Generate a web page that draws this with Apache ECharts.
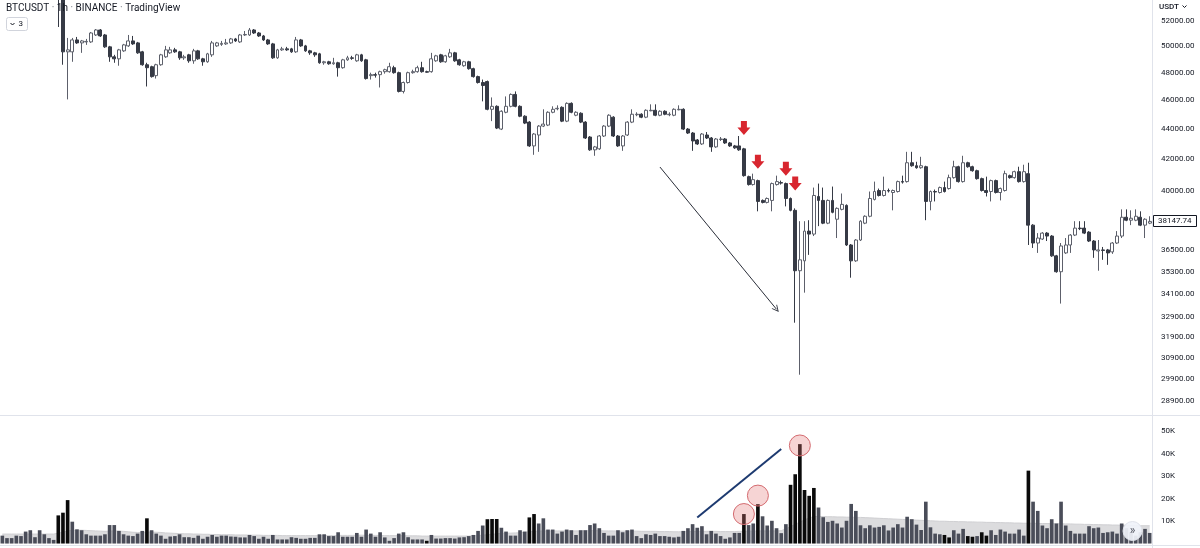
<!DOCTYPE html>
<html><head><meta charset="utf-8">
<script src="https://cdn.jsdelivr.net/npm/echarts@6/dist/echarts.min.js"></script>
<style>html,body{margin:0;padding:0;background:#fff;}#c{width:1200px;height:548px;}</style>
</head><body><div id="c"></div>
<script>
// ---- data (hourly BTCUSDT candles, oldest first) ----
const opens = [
null,null,null,null,null,null,null,null,null,null,
null,null,54700,54100,49578,49578,50500,50269,50346,50346,
50890,51283,50890,49961,49198,49046,49654,50038,50423,50269,
49578,48600,48452,47788,48600,49198,49502,49730,49578,49122,
49350,48896,49654,49046,48822,49350,50038,50154,50192,50269,
50578,50346,50890,50890,51283,51046,50812,50500,50192,49122,
49730,49807,49807,49578,50500,50038,49654,49502,49426,48748,
48822,48674,48748,48378,48970,49122,48896,49350,48970,47788,
47860,47860,48082,48082,48378,48008,46636,47281,48008,48082,
48378,48082,48082,48896,49350,48822,49198,49502,48970,48526,
48822,48304,47716,47281,47354,45365,45575,44000,45158,45575,
46420,45575,44884,44476,42870,43598,44204,44272,45158,45400,
45505,44544,45785,44952,45089,44476,43464,42610,42675,43531,
44204,44816,43531,42870,43598,44476,44986,45020,44816,45262,
45296,44952,45227,44986,44952,45330,45365,44000,43732,43264,
43000,43598,43397,42805,43297,43330,43066,42870,42870,42675,
40881,40383,40631,39405,39285,39405,40383,40507,40445,39525,
38807,35348,35892,37581,37408,39647,39405,38045,39405,38277,
38866,39105,36783,35892,37066,38045,38453,39465,40013,39708,
40013,39891,39952,40569,40569,41769,41577,41449,41513,39345,
39952,39891,40197,40135,40818,41513,40569,41769,41513,41259,
40755,40013,39952,40631,39891,40013,40944,40818,41196,40569,
41070,37929,36895,37123,37465,37294,36170,35294,36335,36783,
37351,37755,37755,37523,37009,36447,36503,36503,36391,36895,
37294,38394,38219,38219,38394,37929,38045];
const closes = [
null,null,null,null,null,null,null,null,null,null,
null,null,54100,49578,49730,50500,50269,50423,50385,51046,
51283,50812,49961,49198,49046,49730,50115,50423,50192,49502,
48600,48378,47716,48600,49350,49730,49730,49578,49122,49198,
48896,49654,49046,48822,49426,50269,50269,50230,50269,50578,
50423,50890,50929,51283,51046,50812,50500,50192,49122,49730,
49807,49730,49578,50500,50038,49654,49502,49350,48748,48822,
48674,48748,48378,48970,49122,49084,49350,48896,47572,47860,
47824,48082,48230,48452,48008,46636,47281,48008,48082,48378,
48082,48045,49046,49274,48822,49274,49502,48896,48600,48822,
48304,47716,47281,47064,45365,45575,44068,45227,45575,46420,
45575,44884,44408,42870,43665,44204,44340,45158,45365,45435,
44544,45785,45158,45158,44476,43397,42610,42805,43531,44204,
44952,43531,42870,43531,44476,45020,45020,44816,45296,45296,
44952,45227,45020,45020,45365,45365,44000,43732,43198,43000,
43665,43397,42805,43330,43330,43066,42870,42740,42610,40944,
40383,40693,39345,39285,39525,40445,40569,40476,39525,38807,
35348,35948,37581,37408,39708,39405,38045,39405,38689,38925,
39165,36783,35892,37066,38161,38453,39525,39952,39708,40013,
39983,40013,40569,40538,41769,41577,41449,41577,39345,39952,
39922,40197,39952,40818,41513,40569,41769,41513,41259,40755,
40013,39891,40631,39891,40135,41070,40818,41196,40569,41196,
37929,36895,37180,37465,37294,36170,35294,36727,36783,37351,
37755,37726,37465,37009,36503,36503,36475,36335,36895,37294,
38394,38219,38335,38453,37929,38277,38147.74];
const lows = [
null,null,null,null,null,null,null,null,null,null,
null,null,51520,48600,46065,48822,50192,49502,50115,50269,
50812,50734,49884,48822,48748,48526,49578,49961,50115,49426,
48526,46993,47644,47572,48526,49122,49426,49502,48970,48970,
48748,48674,48970,48526,48748,49198,49961,50038,50115,50192,
50346,50269,50812,50812,50968,50734,50423,50115,49046,49046,
49654,49654,49502,49502,49961,49578,49350,49198,48674,48600,
48600,48600,47716,48304,48896,48970,48822,48822,47500,47500,
47644,46922,47934,48008,47934,46564,46492,47208,47934,48008,
48008,48008,48008,48822,48748,48748,49122,48822,48526,48452,
48230,47644,47208,45925,45296,44544,44000,43933,45089,45505,
45505,44816,44340,42805,42285,42480,44136,44204,45089,45296,
44476,44476,45089,44884,44408,43330,42545,42220,42610,43464,
44136,43464,42805,42545,43531,44408,44884,44748,44748,45227,
44884,44884,44952,44884,44884,45296,43933,43665,42545,42935,
42935,43330,42480,42740,43198,43000,42805,42675,42545,40881,
40321,40321,38748,39225,39225,38748,40321,40383,39045,38748,
32620,30100,34170,36225,37294,37871,37987,37987,38630,37180,
38807,36727,34970,35836,37009,37987,38394,39405,39647,39647,
39891,38807,39891,40445,40507,41513,41385,41385,38219,38807,
39345,39830,39891,40074,40755,40507,40507,41449,41196,40693,
39952,39647,39345,39830,39405,39952,40755,40755,40507,40507,
36783,36615,36335,37066,37009,36115,35240,33598,36280,36335,
37294,37639,37408,36952,36060,35348,35948,35672,36280,36839,
37180,38161,37929,38161,37871,37180,37987];
const highs = [
null,null,null,null,null,null,null,null,null,null,
null,null,55200,54300,50656,50656,50734,50500,50578,51125,
51360,51360,50968,50038,49350,49807,50192,50890,50812,50346,
49654,48748,48526,48674,49426,50038,49961,49884,49654,49350,
49426,49807,49730,49122,49502,50423,50346,50423,50578,50656,
50656,50968,51204,51440,51360,51125,50890,50578,50269,49807,
49961,49961,49884,50734,50578,50115,49730,49578,49502,48896,
48896,49122,48822,49046,49274,49274,49426,49426,49046,48008,
48008,48156,48304,48748,48526,48082,47354,48082,48230,48526,
48822,48156,49502,49350,49426,49350,49807,49578,49046,48896,
48896,48378,47788,47500,47427,46207,45645,45296,46278,46492,
46636,45645,44952,44544,43732,44272,45365,45227,45575,45645,
45575,45855,45855,45227,45158,44544,43531,42870,43598,44272,
45020,44884,43598,43598,44544,45365,45158,45089,45365,45715,
45715,45296,45296,45158,45435,45645,45435,44068,43799,43330,
43732,43799,43464,43397,43464,43397,43132,42935,43531,42740,
40944,41070,40693,39465,39586,40507,40944,40631,40507,39586,
38925,38161,38161,38219,40197,40445,40197,39465,40259,38985,
39830,39165,36839,37123,38219,38512,39952,40569,40135,40881,
40135,40074,40631,40944,42480,42480,41833,42155,41577,40013,
40074,40259,40569,41007,41897,41577,42220,41833,41577,41322,
40818,40881,40693,40693,40197,41259,41007,41259,41513,41641,
41769,37987,37465,37523,37523,37351,36225,36895,37180,37408,
38161,38161,38161,37581,37066,37066,36671,36559,36952,37581,
38866,38866,38807,38866,38748,38335,38453];
const volumes = [
3500,2400,2400,3500,3300,5300,5900,2800,5900,4100,
2400,1600,12500,13700,19300,9700,6300,5900,4100,3500,
3500,3500,4100,8200,8200,5600,4100,3500,3300,4400,
5600,11200,5900,4400,3500,2100,3100,3300,4100,2800,
2800,2500,3500,2100,3000,3800,3000,3500,3500,3100,
3000,2700,2700,3800,3300,2100,3000,2100,3800,1800,
1800,1800,2800,2500,2100,2100,2500,2500,4100,4100,
3300,3300,5000,3000,3000,3000,4700,3000,6200,4400,
3000,5000,2700,1200,2400,4400,5000,2800,1800,1800,
1800,1200,3800,2200,2200,2400,2400,2200,2700,2800,
3300,3800,5600,8000,10800,10900,10900,7000,5300,3500,
3500,5900,5300,11600,13100,8900,11200,6200,6200,4400,
5300,6200,5900,3800,5900,5900,8200,8900,6800,4700,
3500,3500,5900,5000,5900,6200,3300,2400,4100,3800,
4400,3300,3300,3000,2700,3000,5600,6800,8600,7000,
7700,4100,5600,4400,3300,2100,2700,4700,4700,13100,
8200,8900,17500,12100,8000,10100,6800,4600,8600,26100,
30800,44200,23800,21200,24700,16000,11700,9600,10100,8900,
7100,10100,17600,14500,8100,6800,8100,7100,7400,8100,
5800,7100,8600,7100,11900,10800,8400,6000,18600,7200,
4400,4100,3800,2700,5900,4400,6500,3300,3000,3300,
5000,3500,5900,3800,6200,5300,4400,4400,6200,3500,
32400,18600,14500,8000,6800,10800,8900,18600,8000,5600,
4400,4400,4400,7700,6800,7100,4700,5000,5300,4400,
8900,6800,5000,3500,5000,6500,4700];
// volume moving-average band (read from the grey area), thousands
const volumeMA = [
4.2,4.2,4.2,4.2,4.2,4.2,4.2,4.2,4.2,4.2,4.2,4.2,
4.6,5.0,5.6,
5.8,5.9,5.9,5.8,5.7,5.6,5.5,5.4,5.5,5.6,5.5,5.4,5.2,5.0,4.9,4.9,
5.1,5.1,5.0,4.9,4.7,4.6,4.5,4.4,4.3,4.3,
4.2,4.2,4.1,4.1,4.0,4.0,3.9,3.9,3.9,3.8,3.8,3.8,3.7,3.7,3.7,3.6,3.6,3.6,3.6,3.5,
3.5,3.5,3.5,3.5,3.5,3.5,3.5,3.5,3.5,3.5,
3.5,3.6,3.6,3.6,3.6,3.7,3.7,3.6,3.6,3.6,
3.6,3.5,3.5,3.5,3.5,3.5,3.4,3.4,3.4,3.3,
3.3,3.3,3.3,3.3,3.3,3.3,3.3,3.3,3.3,3.3,
3.4,3.5,3.7,3.9,4.1,4.3,4.5,4.6,4.6,4.7,4.8,5.0,5.2,5.4,5.5,
5.6,5.6,5.6,5.6,5.6,5.6,5.6,5.6,5.6,5.7,5.7,5.7,5.7,5.6,5.6,
5.6,5.5,5.5,5.5,5.5,5.5,5.4,5.4,5.4,5.4,5.3,5.3,5.3,5.2,5.2,5.2,5.3,5.3,5.4,5.4,5.4,5.4,5.4,5.3,5.3,5.3,5.3,5.4,
5.4,5.5,5.5,5.6,5.6,5.6,5.6,5.6,5.7,6.5,7.5,8.5,9.5,10.5,11.3,12.0,
12.0,12.0,11.9,11.9,11.8,11.8,11.7,11.7,11.6,11.6,11.5,
11.4,11.3,11.2,11.1,11.0,10.9,10.8,10.7,10.6,10.5,10.4,10.3,10.2,10.1,10.0,
9.9,9.9,9.8,9.8,9.7,9.7,9.6,9.6,9.5,9.5,9.4,9.4,9.3,9.3,9.2,9.2,9.1,9.1,9.0,9.0,
9.0,8.9,8.9,8.9,8.8,8.8,8.8,8.7,8.7,8.6,8.6,8.5,8.5,8.4,8.4,8.3,8.3,8.2,8.2,8.1,8.1,8.0,8.0,7.9,7.9,7.9];
// bars whose volume column is drawn black in the reference
const darkVolumeBars = [12,13,14,31,91,104,105,106,113,114,159,162,169,170,171,172,173,174,202,203,207,208,210,211,220];
const priceTicks = [52000,50000,48000,46000,44000,42000,40000,36500,35300,34100,32900,31900,30900,29900,28900];
const volumeTicks = [10000,20000,30000,40000,50000];
const lastPrice = 38147.74;
// annotations (bar index, value)
const redArrows = [[159,43598],[162,41385],[168,40944],[170,40013]];
const trendArrow = [[141,41494],[166,33302]];
const volumeTrend = [[149,11600],[167,42000]];
const volumeCircles = [[159,13100],[162,21300],[171,43600]];

const categories = opens.map((_, i) => String(i));
const FONT = 'Roboto, "Liberation Sans", sans-serif';
const candleData = opens.map((o, i) => o == null ? ['-','-','-','-'] : [o, closes[i], lows[i], highs[i]]);
const volumeData = volumes.map((v, i) => ({
  value: v,
  itemStyle: { color: darkVolumeBars.includes(i) ? '#0a0a0a' : '#4a4d59' }
}));

const chart = echarts.init(document.getElementById('c'), null, { renderer: 'canvas' });
const arrowPath = 'path://M3.5,0 L9.5,0 L9.5,6.5 L13,6.5 L6.5,14 L0,6.5 L3.5,6.5 Z';
const chevronPath = 'path://M0,10 L5,0 L10,10 L8.6,10 L5,2.8 L1.4,10 Z';

chart.setOption({
  animation: false,
  backgroundColor: '#ffffff',
  textStyle: { fontFamily: FONT },
  grid: [
    { left: 0, right: 48, top: 0, height: 415 },
    { left: 0, right: 48, top: 416, height: 127.5 }
  ],
  xAxis: [
    { type: 'category', gridIndex: 0, data: categories, show: false },
    { type: 'category', gridIndex: 1, data: categories, show: false }
  ],
  yAxis: [
    { type: 'log', logBase: 10, gridIndex: 0, position: 'right', min: 28283, max: 53715,
      axisLine: { show: false }, axisTick: { show: false }, splitLine: { show: false },
      axisLabel: { customValues: priceTicks, formatter: v => Number(v).toFixed(2),
        color: '#131722', fontSize: 8, margin: 9, fontFamily: FONT } },
    { type: 'value', gridIndex: 1, position: 'right', min: 0, max: 56700,
      axisLine: { show: false }, axisTick: { show: false }, splitLine: { show: false },
      axisLabel: { customValues: volumeTicks, formatter: v => (v / 1000) + 'K',
        color: '#131722', fontSize: 8, margin: 9, fontFamily: FONT } }
  ],
  series: [
    { type: 'line', xAxisIndex: 1, yAxisIndex: 1, data: volumeMA.map(v => v * 1000),
      symbol: 'none', silent: true, z: 1,
      lineStyle: { color: '#cfcfd2', width: 1 }, areaStyle: { color: '#dcdcde', opacity: 1 } },
    { type: 'bar', xAxisIndex: 1, yAxisIndex: 1, data: volumeData, barCategoryGap: '22%', z: 2,
      markLine: { silent: true, symbol: ['none','none'], animation: false,
        lineStyle: { color: '#1d3a70', width: 2, type: 'solid' }, label: { show: false },
        data: [[{ coord: volumeTrend[0] }, { coord: volumeTrend[1] }]] },
      markPoint: { silent: true, symbol: 'circle', symbolSize: 21, label: { show: false },
        itemStyle: { color: 'rgba(226,120,120,0.32)', borderColor: '#d46a6f', borderWidth: 1 },
        data: volumeCircles.map(c => ({ coord: c })) } },
    { type: 'candlestick', xAxisIndex: 0, yAxisIndex: 0, data: candleData, barWidth: 3.4,
      itemStyle: { color: '#ffffff', color0: '#363a45', borderColor: '#5d606b', borderColor0: '#363a45', borderWidth: 1 },
      markPoint: { silent: true, symbol: arrowPath, symbolSize: [13, 14], symbolOffset: [0, '-50%'],
        label: { show: false }, itemStyle: { color: '#d8262f' },
        data: redArrows.map(c => ({ coord: c })) },
      markLine: { silent: true, symbol: ['none', chevronPath], symbolSize: [7, 7],
        lineStyle: { color: '#2a2e39', width: 1, type: 'solid' }, label: { show: false },
        data: [[{ coord: trendArrow[0] }, { coord: trendArrow[1] }]] } }
  ]
});

const py = chart.convertToPixel({ yAxisIndex: 0 }, lastPrice);
chart.setOption({
  graphic: [
    { type: 'line', shape: { x1: 1152.5, y1: 0, x2: 1152.5, y2: 548 }, style: { stroke: '#e0e3eb', lineWidth: 1 }, z: 50 },
    { type: 'line', shape: { x1: 0, y1: 415.5, x2: 1200, y2: 415.5 }, style: { stroke: '#e0e3eb', lineWidth: 1 }, z: 50 },
    { type: 'line', shape: { x1: 0, y1: 545.5, x2: 1200, y2: 545.5 }, style: { stroke: '#e0e3eb', lineWidth: 1 }, z: 50 },
    { type: 'text', left: 6, top: 3, z: 60, style: {
        text: '{a|BTCUSDT}{d| · }{a|1h}{d| · }{a|BINANCE}{d| · }{a|TradingView}',
        rich: { a: { fontSize: 10, fill: '#131722', fontFamily: FONT }, d: { fontSize: 10, fill: '#787b86', fontFamily: FONT } } } },
    { type: 'rect', shape: { x: 6.5, y: 17.5, width: 21, height: 13, r: 2 }, style: { fill: '#ffffff', stroke: '#d1d4dc', lineWidth: 1 }, z: 60 },
    { type: 'polyline', shape: { points: [[10.5, 23], [12.5, 25], [14.5, 23]] }, style: { stroke: '#131722', lineWidth: 1, fill: null }, z: 61 },
    { type: 'text', x: 18.5, y: 19.5, z: 61, style: { text: '3', fontSize: 8, fill: '#131722', fontFamily: FONT } },
    { type: 'text', x: 1159, y: 3, z: 60, style: { text: 'USDT', fontSize: 8, fill: '#131722', fontFamily: FONT, fontWeight: 500 } },
    { type: 'polyline', shape: { points: [[1182.5, 5.5], [1184.5, 7.5], [1186.5, 5.5]] }, style: { stroke: '#131722', lineWidth: 1, fill: null }, z: 60 },
    { type: 'rect', shape: { x: 1153.5, y: Math.round(py) - 5.5, width: 43, height: 11 }, style: { fill: '#ffffff', stroke: '#131722', lineWidth: 1 }, z: 60 },
    { type: 'text', x: 1158, y: py, z: 61, style: { text: lastPrice.toFixed(2), fontSize: 8, fill: '#131722', fontFamily: FONT, verticalAlign: 'middle' } },
    { type: 'circle', shape: { cx: 1132.5, cy: 531, r: 9.5 }, style: { fill: 'rgba(240,243,250,0.92)', stroke: '#e0e3eb', lineWidth: 1 }, z: 60 },
    { type: 'text', x: 1132.5, y: 530.5, z: 61, style: { text: '»', fontSize: 12, fill: '#50535e', align: 'center', verticalAlign: 'middle', fontFamily: FONT } }
  ]
});
</script>
</body></html>
